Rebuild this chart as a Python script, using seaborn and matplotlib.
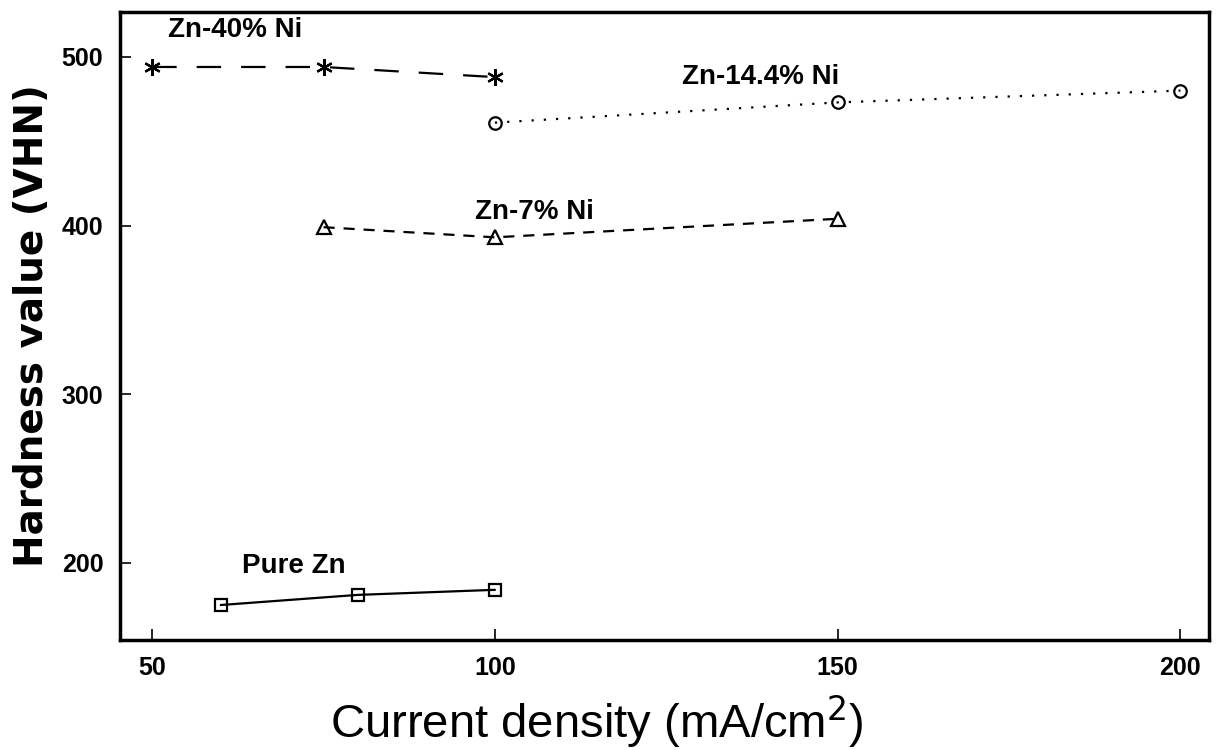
import matplotlib.pyplot as plt
import pandas as pd
import seaborn as sns

# Current density (mA/cm2) and hardness (VHN) for each deposit
zn40_x = [50, 75, 100]
zn40_y = [494, 494, 488]
zn144_x = [100, 150, 200]
zn144_y = [461, 473, 480]
zn7_x = [75, 100, 150]
zn7_y = [399, 393, 404]
pure_x = [60, 80, 100]
pure_y = [175, 181, 184]

series_names = ["Zn-40% Ni", "Zn-14.4% Ni", "Zn-7% Ni", "Pure Zn"]
x_ticks = [50, 100, 150, 200]
y_ticks = [200, 300, 400, 500]

sns.set_theme(style="ticks")
plt.rcParams["font.family"] = ["Liberation Sans", "DejaVu Sans"]
plt.rcParams.update({"text.color": "black", "axes.labelcolor": "black",
                     "xtick.color": "black", "ytick.color": "black"})

fig = plt.figure(figsize=(12.17, 7.5), dpi=100)
ax = fig.add_axes([0.0986, 0.147, 0.895, 0.837])

styles = {
    "Zn-40% Ni": dict(marker=(6, 2, 0), ms=12, dashes=(11, 9)),
    "Zn-14.4% Ni": dict(marker="o", ms=9, dashes=(1, 4.5)),
    "Zn-7% Ni": dict(marker="^", ms=10, dashes=(5, 4)),
    "Pure Zn": dict(marker="s", ms=9, dashes=()),
}
data = [(zn40_x, zn40_y), (zn144_x, zn144_y), (zn7_x, zn7_y), (pure_x, pure_y)]

for name, (xs, ys) in zip(series_names, data):
    df = pd.DataFrame({"x": xs, "y": ys})
    st = styles[name]
    sns.lineplot(data=df, x="x", y="y", ax=ax, color="black", lw=1.6,
                 marker=st["marker"], markersize=st["ms"],
                 markerfacecolor="none", markeredgecolor="black",
                 markeredgewidth=1.6, dashes=st["dashes"] if st["dashes"] else False)

# Series labels placed next to curves
lab = dict(fontsize=20, fontweight="bold", va="center", ha="left")
ax.text(52.3, 516, "Zn-40% Ni", **lab)
ax.text(127.3, 488, "Zn-14.4% Ni", **lab)
ax.text(97.1, 408, "Zn-7% Ni", **lab)
ax.text(63.1, 198, "Pure Zn", **lab)

ax.set_xlim(45.3, 204.2)
ax.set_ylim(154.4, 526.6)
ax.set_xticks(x_ticks)
ax.set_yticks(y_ticks)
ax.tick_params(direction="in", length=8, width=1.2, labelsize=18, pad=12)
for t in ax.get_xticklabels() + ax.get_yticklabels():
    t.set_fontweight("bold")
for side in ax.spines.values():
    side.set_linewidth(2.5)
    side.set_color("black")

ax.set_xlabel("Current density (mA/cm$^2$)", fontsize=34)
ax.xaxis.set_label_coords(0.438, -0.085)
ax.set_ylabel("Hardness value (VHN)", fontsize=28, fontweight="bold",
              family="DejaVu Sans", labelpad=8)

fig.savefig("out.png", dpi=100, facecolor="white")
